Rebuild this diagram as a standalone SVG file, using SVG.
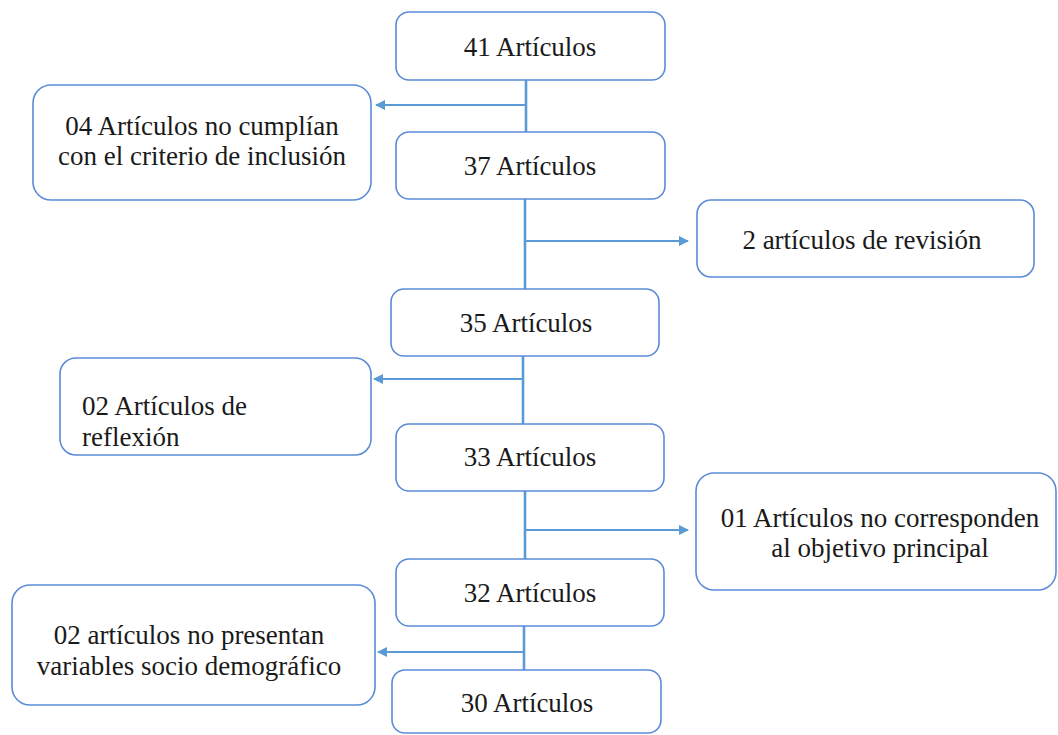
<svg xmlns="http://www.w3.org/2000/svg" width="1058" height="735" viewBox="0 0 1058 735">
<style>
.box{fill:#fff;stroke:#5B8BD6;stroke-width:1.6}
.t{font-family:Liberation Serif,Tinos,Times New Roman,serif;font-size:27px;fill:#1a1a1a}
.c{text-anchor:middle}
.v{stroke:#5B9BD5;stroke-width:2.6;fill:none}
.a{stroke:#5B9BD5;stroke-width:1.8;fill:none}
</style>
<defs>
<marker id="ah" viewBox="0 0 10 10" refX="9" refY="5" markerWidth="12" markerHeight="10" markerUnits="userSpaceOnUse" orient="auto">
<path d="M0,0 L10,5 L0,10 z" fill="#5B9BD5"/>
</marker>
</defs>
<rect width="1058" height="735" fill="#fff"/>
<g id="connectors">
<line class="v" x1="526" y1="80" x2="526" y2="132"/>
<line class="a" x1="526" y1="105" x2="376" y2="105" marker-end="url(#ah)"/>
<line class="v" x1="525" y1="199" x2="525" y2="289"/>
<line class="a" x1="525" y1="241" x2="688" y2="241" marker-end="url(#ah)"/>
<line class="v" x1="523" y1="356" x2="523" y2="424"/>
<line class="a" x1="523" y1="379" x2="374" y2="379" marker-end="url(#ah)"/>
<line class="v" x1="525" y1="491" x2="525" y2="559"/>
<line class="a" x1="525" y1="530" x2="688" y2="530" marker-end="url(#ah)"/>
<line class="v" x1="524" y1="626" x2="524" y2="670"/>
<line class="a" x1="524" y1="652" x2="378" y2="652" marker-end="url(#ah)"/>
</g>
<g id="n41"><rect class="box" x="396" y="12" width="269" height="68" rx="13"/><text class="t c" x="530" y="56">41 Artículos</text></g>
<g id="n04"><rect class="box" x="33" y="85" width="338" height="115" rx="18"/><text class="t c" x="202" y="135">04 Artículos no cumplían</text><text class="t c" x="202" y="165">con el criterio de inclusión</text></g>
<g id="n37"><rect class="box" x="396" y="132" width="269" height="67" rx="13"/><text class="t c" x="530" y="175">37 Artículos</text></g>
<g id="n2rev"><rect class="box" x="697" y="200" width="337" height="77" rx="14"/><text class="t c" x="862" y="249">2 artículos de revisión</text></g>
<g id="n35"><rect class="box" x="391" y="289" width="268" height="67" rx="13"/><text class="t c" x="526" y="332">35 Artículos</text></g>
<g id="n02ref"><rect class="box" x="60" y="358" width="311" height="97" rx="16"/><text class="t" x="82" y="415">02 Artículos de</text><text class="t" x="82" y="446">reflexión</text></g>
<g id="n33"><rect class="box" x="396" y="424" width="268" height="67" rx="13"/><text class="t c" x="530" y="466">33 Artículos</text></g>
<g id="n01"><rect class="box" x="696" y="473" width="360" height="117" rx="18"/><text class="t c" x="880" y="527">01 Artículos no corresponden</text><text class="t c" x="880" y="557">al objetivo principal</text></g>
<g id="n32"><rect class="box" x="396" y="559" width="268" height="67" rx="13"/><text class="t c" x="530" y="602">32 Artículos</text></g>
<g id="n02var"><rect class="box" x="12" y="585" width="363" height="120" rx="18"/><text class="t c" x="189" y="644">02 artículos no presentan</text><text class="t c" x="189" y="675">variables socio demográfico</text></g>
<g id="n30"><rect class="box" x="392" y="670" width="269" height="63" rx="13"/><text class="t c" x="527" y="712">30 Artículos</text></g>
</svg>
